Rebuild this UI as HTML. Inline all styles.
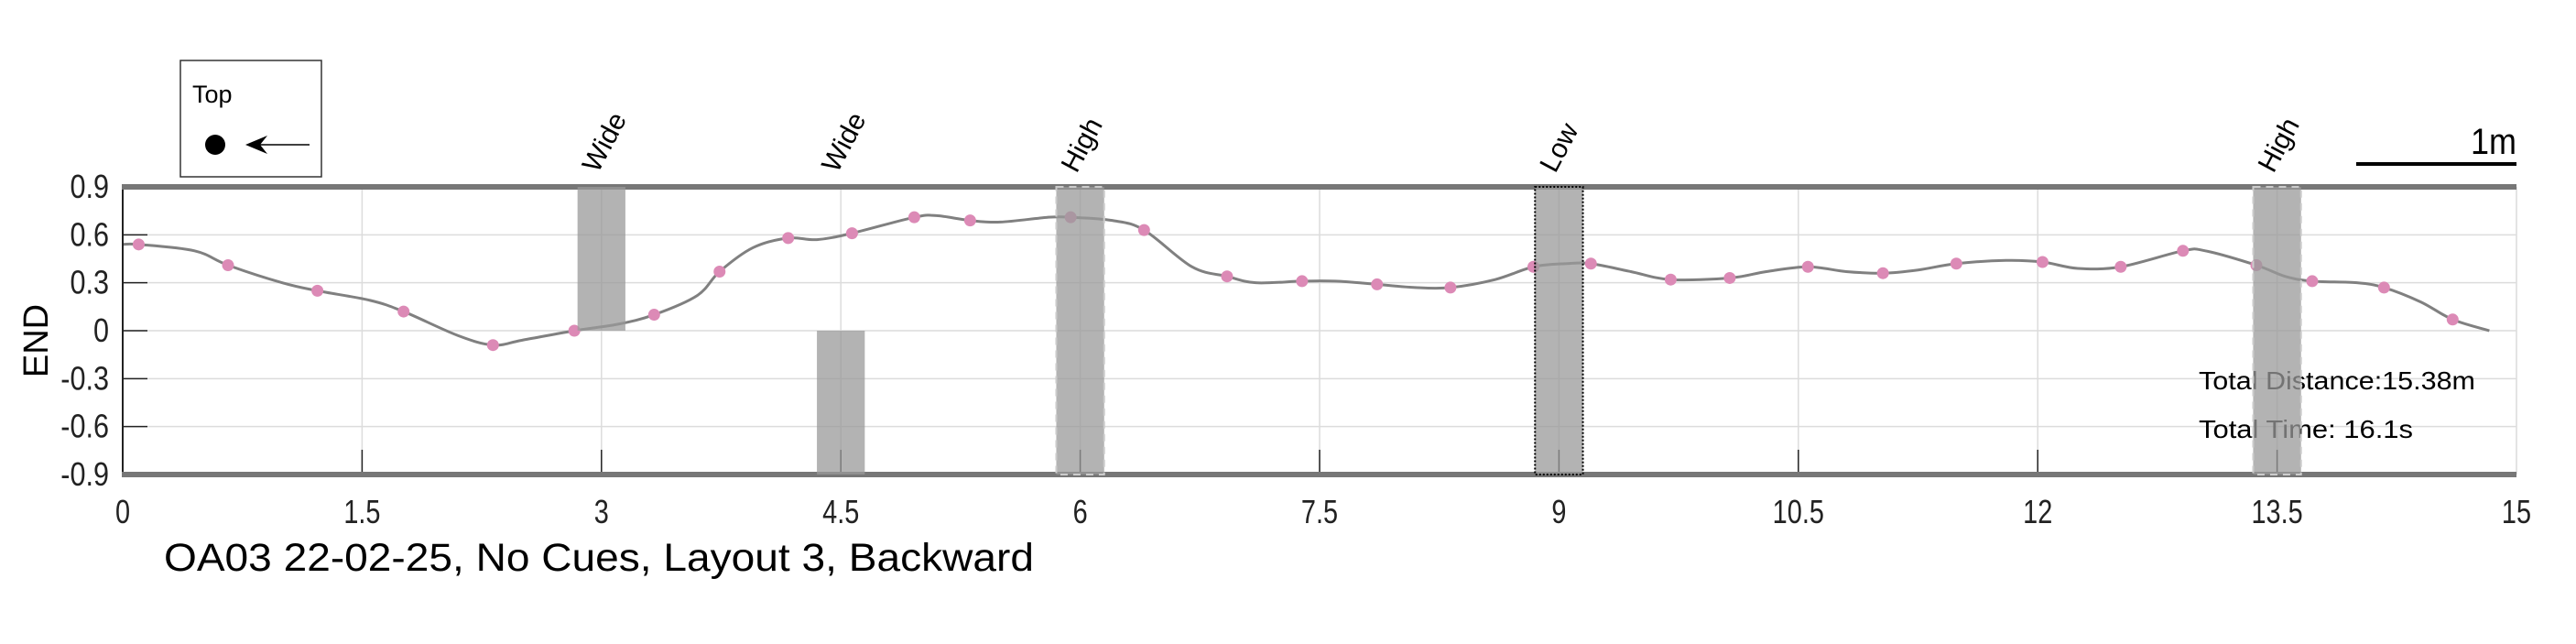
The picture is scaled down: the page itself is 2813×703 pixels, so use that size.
<!DOCTYPE html>
<html><head><meta charset="utf-8"><style>
html,body{margin:0;padding:0;background:#fff;}
svg{display:block;font-family:"Liberation Sans",sans-serif;}
</style></head><body>
<svg id="chart" width="2813" height="703" viewBox="0 0 2813 703" xmlns="http://www.w3.org/2000/svg">
<g id="grid"></g>
<g id="cues"></g>
<g id="series"></g>
<g id="axes"></g>
<g>
  <rect x="197" y="66" width="154" height="127" fill="#fff" stroke="#333" stroke-width="1.5"/>
  <text x="210" y="112" font-size="27" fill="#000">Top</text>
  <ellipse cx="235" cy="158" rx="11" ry="11" fill="#000"/>
  <line x1="270" y1="158" x2="338" y2="158" stroke="#000" stroke-width="1.5"/>
  <path d="M268 158 L292 148 L284 158 L292 168 Z" fill="#000"/>
</g>
<g>
  <line x1="2573" y1="179" x2="2748" y2="179" stroke="#000" stroke-width="4"/>
  <text x="2748" y="168" font-size="40" text-anchor="end" textLength="50" lengthAdjust="spacingAndGlyphs" fill="#000">1m</text>
</g>
<text x="2401" y="425" font-size="28" textLength="302" lengthAdjust="spacingAndGlyphs" fill="#000">Total Distance:15.38m</text>
<text x="2401" y="478" font-size="28" textLength="234" lengthAdjust="spacingAndGlyphs" fill="#000">Total Time: 16.1s</text>
<text x="179" y="623" font-size="43" textLength="950" lengthAdjust="spacingAndGlyphs" fill="#000">OA03 22-02-25, No Cues, Layout 3, Backward</text>
<text transform="translate(52,372) rotate(-90)" font-size="38" text-anchor="middle" fill="#000">END</text>
<g id="overlay"></g>
</svg>
<script>
const xTicks = [0, 1.5, 3, 4.5, 6, 7.5, 9, 10.5, 12, 13.5, 15];
const xTickLabels = ["0", "1.5", "3", "4.5", "6", "7.5", "9", "10.5", "12", "13.5", "15"];
const yTicks = [-0.9, -0.6, -0.3, 0, 0.3, 0.6, 0.9];
const yTickLabels = ["-0.9", "-0.6", "-0.3", "0", "0.3", "0.6", "0.9"];
const lineX = [0, 0.1, 0.45, 0.66, 1.0, 1.22, 1.55, 1.76, 2.1, 2.32, 2.5, 2.83, 3.1, 3.33, 3.6, 3.74, 3.95, 4.17, 4.35, 4.57, 4.96, 5.1, 5.31, 5.5, 5.8, 5.94, 6.2, 6.4, 6.7, 6.92, 7.1, 7.39, 7.6, 7.86, 8.1, 8.32, 8.6, 8.84, 9.05, 9.2, 9.45, 9.7, 10.07, 10.3, 10.56, 10.8, 11.03, 11.25, 11.49, 11.8, 12.03, 12.25, 12.52, 12.91, 13.05, 13.37, 13.55, 13.72, 14.0, 14.17, 14.4, 14.6, 14.83];
const lineY = [0.54, 0.54, 0.50, 0.41, 0.30, 0.25, 0.19, 0.12, -0.03, -0.09, -0.06, 0.0, 0.04, 0.10, 0.22, 0.37, 0.52, 0.58, 0.57, 0.61, 0.71, 0.72, 0.69, 0.68, 0.71, 0.71, 0.69, 0.63, 0.40, 0.34, 0.30, 0.31, 0.31, 0.29, 0.27, 0.27, 0.32, 0.40, 0.42, 0.42, 0.37, 0.32, 0.33, 0.37, 0.40, 0.37, 0.36, 0.38, 0.42, 0.44, 0.43, 0.39, 0.40, 0.50, 0.50, 0.41, 0.34, 0.31, 0.30, 0.27, 0.18, 0.07, 0.0];
const markerX = [0.1, 0.66, 1.22, 1.76, 2.32, 2.83, 3.33, 3.74, 4.17, 4.57, 4.96, 5.31, 5.94, 6.4, 6.92, 7.39, 7.86, 8.32, 8.84, 9.2, 9.7, 10.07, 10.56, 11.03, 11.49, 12.03, 12.52, 12.91, 13.37, 13.72, 14.17, 14.6];
const markerY = [0.54, 0.41, 0.25, 0.12, -0.09, 0.0, 0.10, 0.37, 0.58, 0.61, 0.71, 0.69, 0.71, 0.63, 0.34, 0.31, 0.29, 0.27, 0.40, 0.42, 0.32, 0.33, 0.40, 0.36, 0.42, 0.43, 0.40, 0.50, 0.41, 0.31, 0.27, 0.07];
const cueLabels = ["Wide", "Wide", "High", "Low", "High"];
const cueStart = [2.85, 4.35, 5.85, 8.85, 13.35];
const cueEnd = [3.15, 4.65, 6.15, 9.15, 13.65];
const cueLow = [0, -0.9, -0.9, -0.9, -0.9];
const cueHigh = [0.9, 0, 0.9, 0.9, 0.9];
const cueBorder = ["none", "none", "dash", "dot", "dash"];

const NS = "http://www.w3.org/2000/svg";
const X0 = 134, X1 = 2748, Y0 = 361, YU = 174.4;
const sx = v => X0 + (v - 0) * (X1 - X0) / 15;
const sy = v => Y0 - v * YU;
function mk(tag, attrs, parent) {
  const e = document.createElementNS(NS, tag);
  for (const k in attrs) e.setAttribute(k, attrs[k]);
  parent.appendChild(e);
  return e;
}
const grid = document.getElementById('grid');
const axes = document.getElementById('axes');
const cues = document.getElementById('cues');
const series = document.getElementById('series');
const overlay = document.getElementById('overlay');

xTicks.forEach((t, i) => {
  const g = mk('line', {x1: sx(t), x2: sx(t), y1: sy(0.9), y2: sy(-0.9), stroke: '#dcdcdc', 'stroke-width': 1.5}, grid);
  
  
  if (t > 0 && t < 15) {
    const tk = mk('line', {x1: sx(t), x2: sx(t), y1: sy(-0.9), y2: sy(-0.9) - 27, stroke: '#222', 'stroke-width': 1.5}, axes);
    
    
  }
  const lb = mk('text', {transform: 'translate(' + sx(t) + ',571) scale(0.85,1.05)', 'font-size': 34, 'text-anchor': 'middle', fill: '#222'}, axes);
  lb.textContent = xTickLabels[i];
  
  
});
yTicks.forEach((t, i) => {
  const g = mk('line', {x1: sx(0), x2: sx(15), y1: sy(t), y2: sy(t), stroke: '#dcdcdc', 'stroke-width': 1.5}, grid);
  
  
  if (Math.abs(t) < 0.9) {
    const tk = mk('line', {x1: sx(0), x2: sx(0) + 27, y1: sy(t), y2: sy(t), stroke: '#222', 'stroke-width': 1.5}, axes);
    
    
  }
  const lb = mk('text', {transform: 'translate(119,' + (sy(t) + 12) + ') scale(0.9,1.05)', 'font-size': 34, 'text-anchor': 'end', fill: '#222'}, axes);
  lb.textContent = yTickLabels[i];
  
  
});
const la = mk('line', {x1: sx(0), x2: sx(0), y1: sy(0.9), y2: sy(-0.9), stroke: '#222', 'stroke-width': 2}, axes);


const tb = mk('line', {x1: sx(0) - 1, x2: sx(15), y1: sy(0.9), y2: sy(0.9), stroke: '#777', 'stroke-width': 6}, overlay);


const bb = mk('line', {x1: sx(0) - 1, x2: sx(15), y1: sy(-0.9), y2: sy(-0.9), stroke: '#777', 'stroke-width': 6}, overlay);



cueLabels.forEach((c, i) => {
  const x = sx(cueStart[i]), w = sx(cueEnd[i]) - x;
  const y = sy(cueHigh[i]), h = sy(cueLow[i]) - y;
  const r = mk('rect', {x: x, y: y, width: w, height: h, fill: '#999', 'fill-opacity': 0.75}, overlay);
  if (cueBorder[i] === 'dash') { r.setAttribute('stroke', '#ccc'); r.setAttribute('stroke-width', 2); r.setAttribute('stroke-dasharray', '8 6'); }
  if (cueBorder[i] === 'dot') { r.setAttribute('stroke', '#000'); r.setAttribute('stroke-width', 2); r.setAttribute('stroke-dasharray', '2 2'); }
  
  
  const cx = (sx(cueStart[i]) + sx(cueEnd[i])) / 2;
  const t = mk('text', {transform: 'translate(' + (cx - 4) + ',190) rotate(-62)', 'font-size': 30, fill: '#000'}, cues);
  t.textContent = c;
  
  
});

let pts = lineX.map((v, i) => [sx(v), sy(lineY[i])]);
let d = 'M' + pts[0][0] + ' ' + pts[0][1];
for (let i = 0; i < pts.length - 1; i++) {
  const p0 = pts[Math.max(0, i - 1)], p1 = pts[i], p2 = pts[i + 1], p3 = pts[Math.min(pts.length - 1, i + 2)];
  const c1 = [p1[0] + (p2[0] - p0[0]) / 6, p1[1] + (p2[1] - p0[1]) / 6];
  const c2 = [p2[0] - (p3[0] - p1[0]) / 6, p2[1] - (p3[1] - p1[1]) / 6];
  d += ' C' + c1[0] + ' ' + c1[1] + ' ' + c2[0] + ' ' + c2[1] + ' ' + p2[0] + ' ' + p2[1];
}
const path = mk('path', {d: d, fill: 'none', stroke: '#808080', 'stroke-width': 3}, series);


markerX.forEach((v, i) => {
  const c = mk('circle', {cx: sx(v), cy: sy(markerY[i]), r: 6.5, fill: '#dc8ab6'}, series);
  
  
});
</script>
</body></html>
